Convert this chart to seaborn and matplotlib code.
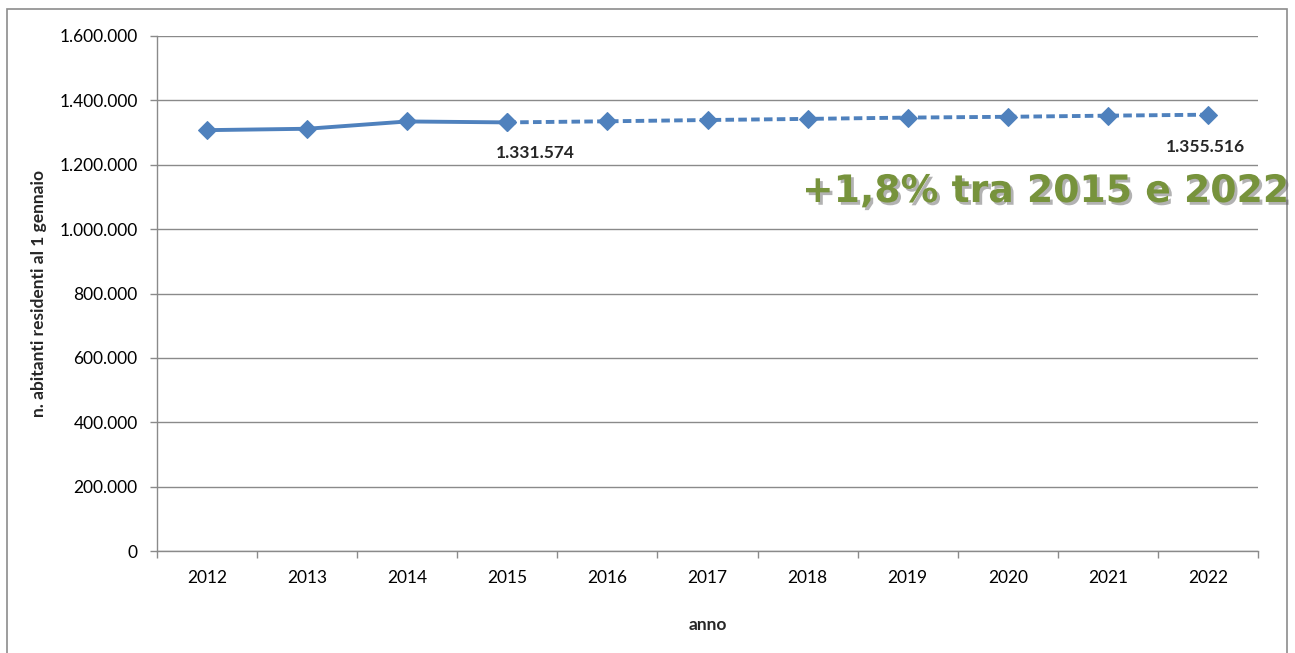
import matplotlib
matplotlib.use("Agg")
import matplotlib.pyplot as plt
import matplotlib.patheffects as pe
from matplotlib.patches import Rectangle
from matplotlib.ticker import FuncFormatter, FixedLocator
import seaborn as sns
import pandas as pd

# Resident population on 1 January: observed years and projected years
years_obs = [2012, 2013, 2014, 2015]
pop_obs = [1307500, 1311800, 1334500, 1331574]
years_proj = [2015, 2016, 2017, 2018, 2019, 2020, 2021, 2022]
pop_proj = [1331574, 1335000, 1339000, 1342500, 1346500, 1349000, 1352500, 1355516]
year_labels = [str(y) for y in range(2012, 2023)]
y_ticks = [0, 200000, 400000, 600000, 800000, 1000000, 1200000, 1400000, 1600000]

sns.set_theme(style="white")
plt.rcParams["font.family"] = ["Lato", "DejaVu Sans"]

fig = plt.figure(figsize=(12.95, 6.53), dpi=100)
ax = fig.add_axes([157 / 1295, 1 - 551 / 653, (1258 - 157) / 1295, (551 - 36) / 653])

# outer chart frame
fig.patches.append(Rectangle((7 / 1295, -0.05), (1287 - 7) / 1295, 1 - 9 / 653 + 0.05,
                             transform=fig.transFigure, fill=False,
                             edgecolor="#8c8c8c", linewidth=1.2, zorder=0))

blue = "#4F81BD"
df_obs = pd.DataFrame({"anno": years_obs, "pop": pop_obs})
df_proj = pd.DataFrame({"anno": years_proj, "pop": pop_proj})
sns.lineplot(data=df_obs, x="anno", y="pop", ax=ax, color=blue, linewidth=2.8,
             marker="D", markersize=9, markeredgecolor=blue, zorder=3)
sns.lineplot(data=df_proj, x="anno", y="pop", ax=ax, color=blue, linewidth=2.8,
             linestyle=(0, (2.2, 1.1)), marker="D", markersize=9,
             markeredgecolor=blue, zorder=3)

ax.set_xlim(2011.5, 2022.5)
ax.set_ylim(0, 1600000)

# y axis
ax.set_yticks(y_ticks)
ax.yaxis.set_major_formatter(FuncFormatter(lambda v, p: f"{int(v):,}".replace(",", ".")))
ax.yaxis.grid(True, color="#8a8a8a", linewidth=1.0)
ax.tick_params(axis="y", which="major", left=True, length=5, width=1, color="#8a8a8a",
               pad=9, labelsize=12.5, labelcolor="black")

# x axis: tick marks between categories, labels centred on categories
ax.xaxis.set_major_locator(FixedLocator([2011.5 + i for i in range(12)]))
ax.xaxis.set_major_formatter(FuncFormatter(lambda v, p: ""))
ax.xaxis.set_minor_locator(FixedLocator(list(range(2012, 2023))))
ax.set_xticklabels(year_labels, minor=True)
ax.tick_params(axis="x", which="major", bottom=True, length=5, width=1, color="#8a8a8a")
ax.tick_params(axis="x", which="minor", bottom=True, length=0, pad=14, labelsize=12.5,
               labelcolor="black")

for side in ["top", "right"]:
    ax.spines[side].set_visible(False)
for side in ["left", "bottom"]:
    ax.spines[side].set_color("#8a8a8a")
    ax.spines[side].set_linewidth(1.0)

ax.set_xlabel("anno", fontsize=12.5, fontweight="bold", labelpad=22)
ax.set_ylabel("n. abitanti residenti al 1 gennaio", fontsize=12.5, fontweight="bold",
              labelpad=9)

def fmt(v):
    return f"{v:,}".replace(",", ".")

ax.annotate(fmt(pop_obs[-1]), (years_obs[-1], pop_obs[-1]), xytext=(20, -22),
            textcoords="offset points", ha="center", va="center",
            fontsize=12.5, fontweight="bold")
ax.annotate(fmt(pop_proj[-1]), (years_proj[-1], pop_proj[-1]), xytext=(-2, -23),
            textcoords="offset points", ha="center", va="center",
            fontsize=12.5, fontweight="bold")

fig.text(802 / 1295, 1 - 192 / 653, "+1,8% tra 2015 e 2022", family="DejaVu Sans",
         fontsize=27.2, fontweight="bold", color="#77933C", ha="left", va="center",
         path_effects=[pe.withSimplePatchShadow(offset=(2, -2), shadow_rgbFace="#555555",
                                                alpha=0.45)])

fig.savefig("out.png", dpi=100)
